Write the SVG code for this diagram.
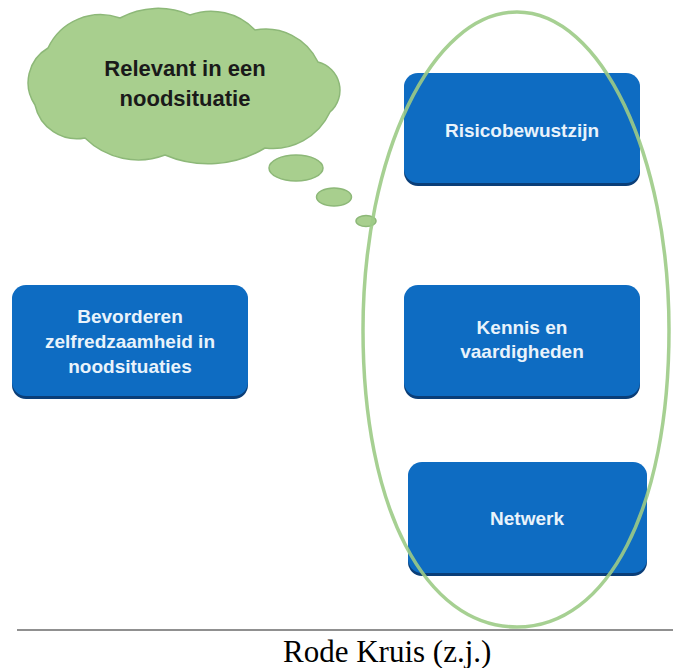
<svg xmlns="http://www.w3.org/2000/svg" width="673" height="668" viewBox="0 0 673 668">
<style>
.box{fill:#0e6cc2;}
.shadow{fill:#0a3e78;}
.bt{font-family:"Liberation Sans",Arial,sans-serif;font-weight:bold;font-size:19px;fill:#e9f3fb;text-anchor:middle;}
.ct{font-family:"Liberation Sans",Arial,sans-serif;font-weight:bold;font-size:22px;fill:#1a1a1a;text-anchor:middle;}
.cloud{fill:#a8cf8e;stroke:#8db878;stroke-width:1.5;}
</style>
<rect width="673" height="668" fill="#ffffff"/>
<g id="cloud">
<path class="cloud" d="M35,105 A40 40 0 0 1 48,48 A58 58 0 0 1 120,18 A80 80 0 0 1 190,15 A61 61 0 0 1 255,30 A58 58 0 0 1 318,62 A29 29 0 0 1 330,112 A63 63 0 0 1 265,148 A110 110 0 0 1 165,155 A76 76 0 0 1 85,138 A43 43 0 0 1 35,105 Z"/>
<ellipse class="cloud" cx="296" cy="168" rx="27" ry="13"/>
<ellipse class="cloud" cx="334" cy="197" rx="17.5" ry="9"/>
<ellipse class="cloud" cx="366" cy="221" rx="10" ry="5.5"/>
<text class="ct" x="185" y="76">Relevant in een</text>
<text class="ct" x="185" y="106">noodsituatie</text>
</g>
<g id="bevorderen">
<rect class="shadow" x="12" y="287" width="236" height="112" rx="14"/>
<rect class="box" x="12" y="285" width="236" height="111" rx="14"/>
<text class="bt" x="130" y="323">Bevorderen</text>
<text class="bt" x="130" y="348">zelfredzaamheid in</text>
<text class="bt" x="130" y="373">noodsituaties</text>
</g>
<g id="risicobewustzijn">
<rect class="shadow" x="404" y="75" width="236" height="111" rx="14"/>
<rect class="box" x="404" y="73" width="236" height="110" rx="14"/>
<text class="bt" x="522" y="137">Risicobewustzijn</text>
</g>
<g id="kennis">
<rect class="shadow" x="404" y="287" width="236" height="112" rx="14"/>
<rect class="box" x="404" y="285" width="236" height="111" rx="14"/>
<text class="bt" x="522" y="334">Kennis en</text>
<text class="bt" x="522" y="358">vaardigheden</text>
</g>
<g id="netwerk">
<rect class="shadow" x="408" y="464" width="239" height="112" rx="14"/>
<rect class="box" x="408" y="462" width="239" height="111" rx="14"/>
<text class="bt" x="527" y="525">Netwerk</text>
</g>
<g id="connectors">
<path d="M517,12 C601,12 669,155 669,330 C669,508 608,627 517,627 C425,627 363,508 363,330 C363,155 432,12 517,12 Z" fill="none" stroke="#9ccb86" stroke-width="3.5" opacity="0.9"/>
</g>
<g id="caption">
<line x1="17" y1="630" x2="673" y2="630" stroke="#222222" stroke-width="1.2"/>
<text x="283" y="662" font-family="'Liberation Serif','Times New Roman',serif" font-size="31" fill="#000000">Rode Kruis (z.j.)</text>
</g>
</svg>
